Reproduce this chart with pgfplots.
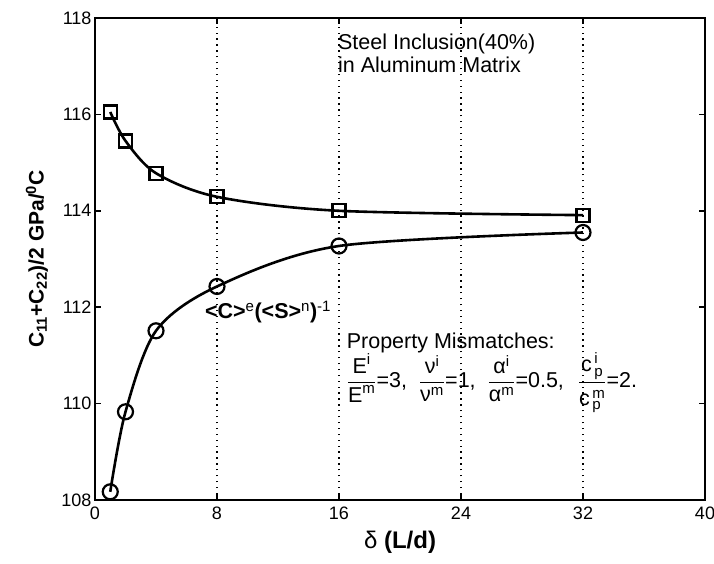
\documentclass[border=0pt]{standalone}
\usepackage{fontspec}
\setmainfont{Liberation Sans}
\usepackage{amsmath}
\usepackage{pgfplots}
\pgfplotsset{compat=1.18}

% stiffness vs. aspect ratio, two bounds
\pgfplotstableread{
x y
1 116.05
2 115.45
4 114.78
8 114.29
16 114.00
32 113.91
}\upperdata
\pgfplotstableread{
x y
1 108.17
2 109.83
4 111.51
8 112.43
16 113.27
32 113.55
}\lowerdata

\newcommand{\annfont}{\fontsize{21.5}{23}\selectfont}

\begin{document}
\begin{tikzpicture}
\begin{axis}[
  scale only axis, width=610pt, height=482pt,
  at={(0,0)}, anchor=south west,
  xmin=0, xmax=40, ymin=108, ymax=118,
  xtick={0,8,...,40}, ytick={108,110,...,118},
  tick align=inside, major tick length=6pt,
  tick style={line width=1.6pt, black},
  axis line style={line width=2.4pt},
  xmajorgrids,
  grid style={black, line width=1.3pt, dash pattern=on 1.3pt off 4.6pt},
  /pgf/number format/assume math mode=true,
  ticklabel style={font=\fontsize{18}{18}\selectfont},
  xticklabel style={yshift=-3pt},
  xlabel={δ \textbf{(L/d)}},
  ylabel={\textbf{C\textsubscript{11}+C\textsubscript{22})/2 GPa/\textsuperscript{0}C}},
  xlabel style={font=\fontsize{24}{24}\selectfont,
    at={(axis description cs:0.5,0)}, anchor=center, yshift=-42pt},
  ylabel style={font=\fontsize{21}{21}\selectfont,
    at={(axis description cs:0,0.5)}, anchor=center, yshift=58pt},
  clip=false,
]
\addplot[black, line width=2.6pt, smooth, mark=square,
  mark size=6.5pt, mark options={line width=2.2pt, fill=none}]
  table[x=x, y=y] {\upperdata};
\addplot[black, line width=2.6pt, smooth, mark=o,
  mark size=7.5pt, mark options={line width=2.2pt, fill=none}]
  table[x=x, y=y] {\lowerdata};

\node[anchor=west, align=left, font=\annfont, inner sep=0pt]
  at (axis cs:15.93,117.27) {Steel Inclusion(40\%)\\in Aluminum Matrix};
\node[anchor=center, font=\annfont, inner sep=0pt]
  at (axis cs:11.35,111.9)
  {\textbf{<C>}$^{\text{e}}$\textbf{(<S>}$^{\text{n}}$\textbf{)}$^{\text{-1}}$};
\node[anchor=west, font=\annfont, inner sep=0pt]
  at (axis cs:16.5,111.26) {Property Mismatches:};
\node[anchor=west, font=\annfont, inner sep=0pt]
  at (axis cs:16.5,110.43)
  {$\dfrac{\text{E}^{\text{i}}}{\text{E}^{\text{m}}}$=3,\ \
   $\dfrac{\text{ν}^{\text{i}}}{\text{ν}^{\text{m}}}$=1,\ \
   $\dfrac{\text{α}^{\text{i}}}{\text{α}^{\text{m}}}$=0.5,\ \hspace{8pt}%
   $\dfrac{\text{c}^{\,\text{i}}_{\,\text{p}}\rule[-7pt]{0pt}{7pt}}
          {\rule{0pt}{20pt}\text{c}^{\,\text{m}}_{\,\text{p}}}$=2.};
\end{axis}
\pgfresetboundingbox
\path (-95pt,-64pt) rectangle (619pt,500pt);
\end{tikzpicture}
\end{document}
